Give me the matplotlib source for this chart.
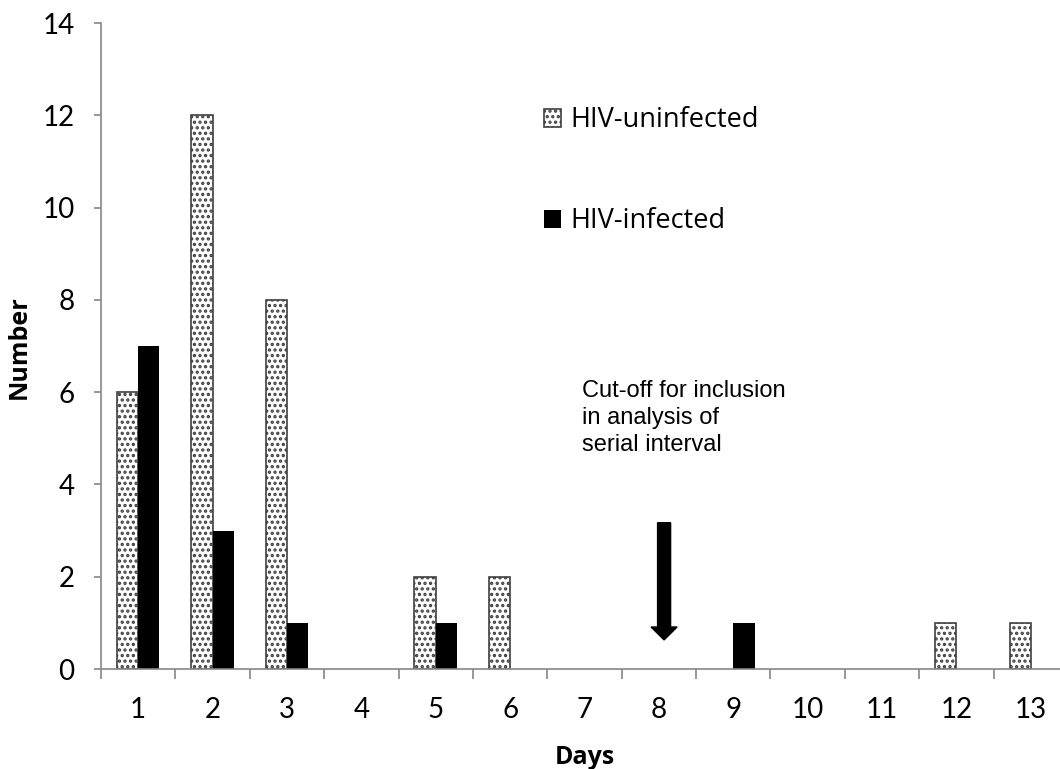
import matplotlib
matplotlib.use("Agg")
import matplotlib.pyplot as plt
import numpy as np

days = [1, 2, 3, 4, 5, 6, 7, 8, 9, 10, 11, 12, 13]
hiv_uninfected = [6, 12, 8, 0, 2, 2, 0, 0, 0, 0, 0, 1, 1]
hiv_infected = [7, 3, 1, 0, 1, 0, 0, 0, 1, 0, 0, 0, 0]
y_ticks = [0, 2, 4, 6, 8, 10, 12, 14]

plt.rcParams['hatch.linewidth'] = 1.6
plt.rcParams['hatch.color'] = '#555555'

fig = plt.figure(figsize=(10.6, 7.69), dpi=100)
ax = fig.add_axes([101 / 1060, 100 / 769, 967 / 1060, 646 / 769])

x = np.array(days)
w = 0.286
# no outline on empty bars
lw_u = [1.2 if v > 0 else 0 for v in hiv_uninfected]
ax.bar(x - w / 2, hiv_uninfected, w, color='white', edgecolor='#404040',
       linewidth=lw_u, hatch='...', label='HIV-uninfected', zorder=3)
ax.bar(x + w / 2, hiv_infected, w, color='black', edgecolor='black',
       linewidth=0, label='HIV-infected', zorder=3)

ax.set_xlim(0.5, 13.5)
ax.set_ylim(0, 14)

grey = '#868686'
for s in ['top', 'right']:
    ax.spines[s].set_visible(False)
for s in ['left', 'bottom']:
    ax.spines[s].set_color(grey)
    ax.spines[s].set_linewidth(1.2)
    ax.spines[s].set_zorder(4)

ax.set_xticks(days)
ax.set_xticks(np.arange(0.5, 14, 1), minor=True)
ax.tick_params(axis='x', which='major', length=0, pad=20, labelsize=20)
ax.tick_params(axis='x', which='minor', length=7, width=1.2, color=grey)
ax.set_yticks(y_ticks)
ax.tick_params(axis='y', length=5, width=1.2, color=grey, pad=14, labelsize=20)
for lab in ax.get_xticklabels() + ax.get_yticklabels():
    lab.set_fontfamily('Lato')

ax.set_xlabel('Days', fontsize=18, fontweight='bold', family='Open Sans')
ax.set_ylabel('Number', fontsize=18, fontweight='bold', family='Open Sans')
ax.xaxis.set_label_coords(0.5, -0.117)
ax.yaxis.set_label_coords(-0.0714, 0.498)

leg = ax.legend(loc='upper left', bbox_to_anchor=(0.458, 0.871), frameon=False,
                borderpad=0, borderaxespad=0,
                handlelength=0.63, handleheight=0.63, handletextpad=0.33,
                labelspacing=2.7, prop={'family': 'Open Sans', 'size': 19.5})

ax.text(6.965, 6.26, 'Cut-off for inclusion\nin analysis of\nserial interval',
        fontsize=17, family='Liberation Sans', va='top', ha='left',
        linespacing=1.28)
ax.arrow(8.07, 3.17, 0, -2.54, width=0.175, head_width=0.35, head_length=0.28,
         length_includes_head=True, color='black', zorder=4)

fig.savefig('out.png', dpi=100)
